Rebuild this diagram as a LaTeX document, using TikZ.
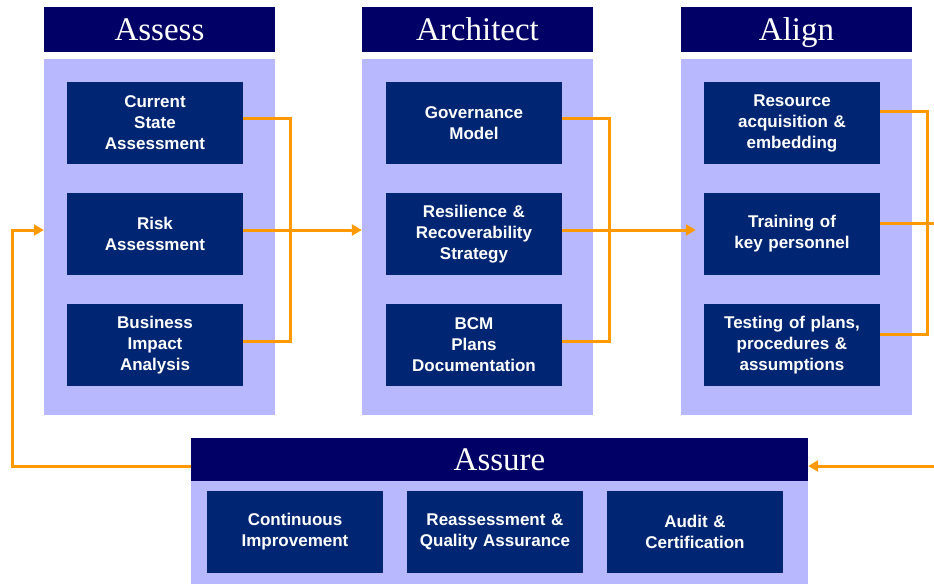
\documentclass[tikz,border=0pt]{standalone}
\usepackage{fontspec}
\setmainfont{Liberation Serif}
\setsansfont{Liberation Sans}
\usetikzlibrary{arrows.meta}
\definecolor{hdrblue}{HTML}{000066}
\definecolor{boxblue}{HTML}{002673}
\definecolor{panelblue}{HTML}{B8B8FF}
\definecolor{linkorange}{HTML}{FF9900}
\tikzstyle{header} = [rectangle, minimum width=231pt, minimum height=45pt, inner sep=0pt, text height=22pt, text depth=0pt, fill=hdrblue, text=white, font=\fontsize{33}{36}\selectfont]
\tikzstyle{panel} = [rectangle, minimum width=231pt, minimum height=356pt, inner sep=0pt, fill=panelblue]
\tikzstyle{process} = [rectangle, minimum width=176pt, minimum height=82pt, text width=172pt, inner sep=0pt, text centered, fill=boxblue, text=white, font=\sffamily\bfseries\fontsize{17}{21}\selectfont]
\tikzstyle{link} = [draw=linkorange, line width=3pt]
\tikzstyle{arrow} = [link, -{Triangle[length=10pt, width=11pt]}]

\begin{document}
\begin{tikzpicture}[x=1pt, y=-1pt, node distance=111pt]
\useasboundingbox (0,0) rectangle (934,584);
% columns
\node (hAssess) [header] at (159.5,29.5) {Assess};
\node (pAssess) [panel] at (159.5,237) {};
\node (hArch) [header] at (477.5,29.5) {Architect};
\node (pArch) [panel] at (477.5,237) {};
\node (hAlign) [header] at (796.5,29.5) {Align};
\node (pAlign) [panel] at (796.5,237) {};
\node (pAssure) [panel, minimum width=617pt, minimum height=103pt] at (499.5,532.5) {};
\node (hAssure) [header, minimum width=617pt, minimum height=43pt] at (499.5,459.5) {Assure};

% assess
\node (s1) [process] at (155,123) {Current\\State\\Assessment};
\node (s2) [process, below of=s1] {Risk\\Assessment};
\node (s3) [process, below of=s2] {Business\\Impact\\Analysis};
% architect
\node (r1) [process] at (474,123) {Governance\\Model};
\node (r2) [process, below of=r1] {Resilience \&\\Recoverability\\Strategy};
\node (r3) [process, below of=r2] {BCM\\Plans\\Documentation};
% align
\node (l1) [process] at (792,123) {Resource\\acquisition \&\\embedding};
\node (l2) [process, below of=l1] {Training of\\key personnel};
\node (l3) [process, below of=l2] {Testing of plans,\\procedures \&\\assumptions};
% assure
\node (u1) [process] at (295,532) {Continuous\\Improvement};
\node (u2) [process] at (495,532) {Reassessment \&\\Quality Assurance};
\node (u3) [process] at (695,532) {Audit \&\\Certification};

\coordinate (busS) at (290,230);
\coordinate (busR) at (609,230);
\coordinate (busL) at (927,223);
\coordinate (outL) at (934,223);
\coordinate (inR) at (934,466);
\coordinate (backL) at (12,466);

\draw [link] ([yshift=5pt]s1.east) -| (busS);
\draw [link] ([yshift=4pt]s3.east) -| (busS);
\draw [arrow] (s2.east |- busS) -- (pArch.west |- busS);
\draw [link] ([yshift=5pt]r1.east) -| (busR);
\draw [link] ([yshift=4pt]r3.east) -| (busR);
\draw [arrow] (r2.east |- busR) -- ([xshift=-8pt]l2.west |- busR);
\draw [link] ([yshift=12pt]l1.east) -| (busL);
\draw [link] ([yshift=11pt]l3.east) -| (busL);
\draw [link] (l2.east |- outL) -- (outL);
\draw [arrow] (inR) -- (hAssure.east |- inR);
\draw [arrow] (hAssure.west |- backL) -- (backL) |- (pAssess.west |- busS);
\end{tikzpicture}
\end{document}
